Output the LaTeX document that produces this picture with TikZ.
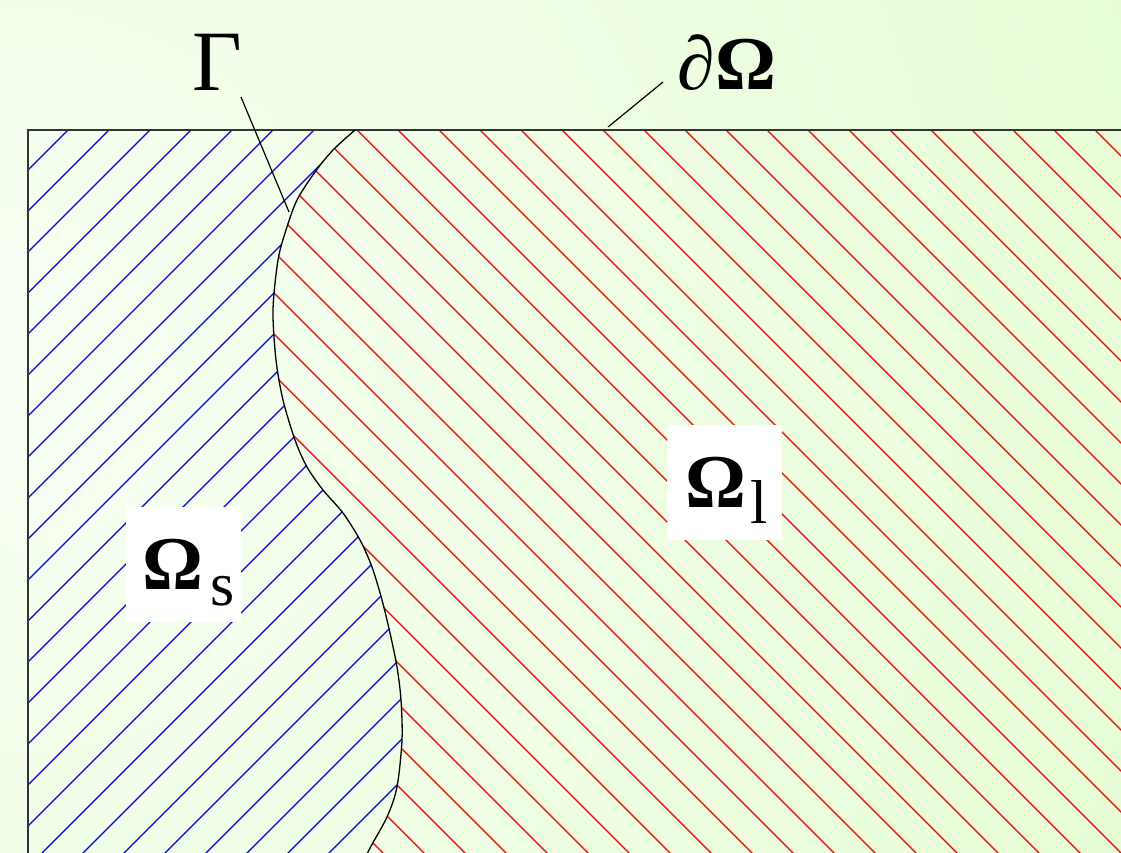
\documentclass[tikz,border=0pt]{standalone}
\usepackage{fontspec}
\setmainfont{Liberation Serif}
\definecolor{bgin}{HTML}{F8FFF4}
\definecolor{bgout}{HTML}{D6FAB8}
\begin{document}
\begin{tikzpicture}[x=1pt,y=-1pt,
  hatchblue/.style={draw={rgb,255:red,0;green,0;blue,255}, line width=1.1pt},
  hatchred/.style={draw={rgb,255:red,255;green,0;blue,0}, line width=1.1pt},
  border/.style={draw=black!80, line width=1.2pt},
  iface/.style={draw=black, line width=1.3pt},
  leader/.style={draw=black, line width=1.2pt},
  biglab/.style={inner sep=0pt, anchor=base},
  labbox/.style={fill=white, inner sep=0pt, minimum width=115pt, text height=82pt, text depth=33pt, font=\fontsize{76}{76}\selectfont, anchor=base}]
\useasboundingbox (0,0) rectangle (1121,852);
% background
\begin{scope}
\clip (0,0) rectangle (1121,852);
\shade[inner color=bgin, outer color=bgout] (0,380) circle (2350);
\end{scope}
% blue hatching (solid region)
\begin{scope}
\clip (28,130) -- plot[smooth] coordinates {(355,130) (333,150) (315,172) (297,200) (286,230) (278,260) (273,310) (276,360) (283,400) (295,440) (307,467) (323,490) (343,513) (360,540) (372,567) (382,600) (390,633) (397,667) (401,700) (402,740) (397,787) (387,817) (368,852) (360,875)} -- (28,900) -- cycle;
\foreach \k in {0,...,27} { \draw[hatchblue] ({198+41*\k},0) -- ({198+41*\k-1000},1000); }
\end{scope}
% red hatching (liquid region)
\begin{scope}
\clip plot[smooth] coordinates {(355,130) (333,150) (315,172) (297,200) (286,230) (278,260) (273,310) (276,360) (283,400) (295,440) (307,467) (323,490) (343,513) (360,540) (372,567) (382,600) (390,633) (397,667) (401,700) (402,740) (397,787) (387,817) (368,852) (360,875)} -- (360,900) -- (1200,900) -- (1200,130) -- cycle;
\foreach \k in {-27,...,14} { \draw[hatchred] ({473+41*\k},0) -- ({473+41*\k+1000},1000); }
\end{scope}
% outer boundary
\draw[border] (28,900) -- (28,130) -- (1200,130);
% interface Gamma
\draw[iface] plot[smooth] coordinates {(355,130) (333,150) (315,172) (297,200) (286,230) (278,260) (273,310) (276,360) (283,400) (295,440) (307,467) (323,490) (343,513) (360,540) (372,567) (382,600) (390,633) (397,667) (401,700) (402,740) (397,787) (387,817) (368,852) (360,875)};
% labels
\node[biglab, font=\fontsize{86}{86}\selectfont] (G) at (217,90) {Γ};
\node[biglab, font=\fontsize{76}{76}\selectfont] (dO) at (727,89) {∂\textbf{Ω}};
\coordinate (Gfoot) at (241,97);
\coordinate (Gtip) at (289,212);
\coordinate (dOfoot) at (663,82);
\coordinate (dOtip) at (608,127);
\draw[leader] (Gfoot) -- (Gtip);
\draw[leader] (dOfoot) -- (dOtip);
\node[labbox] (Os) at (183.5,589) {\hspace{10pt}\textbf{Ω}\hspace{8pt}\raisebox{-16pt}{\fontsize{62}{62}\selectfont s}};
\node[labbox] (Ol) at (724.5,507) {\hspace{4pt}\textbf{Ω}\hspace{4pt}\raisebox{-16pt}{\fontsize{62}{62}\selectfont l}};
\end{tikzpicture}
\end{document}
